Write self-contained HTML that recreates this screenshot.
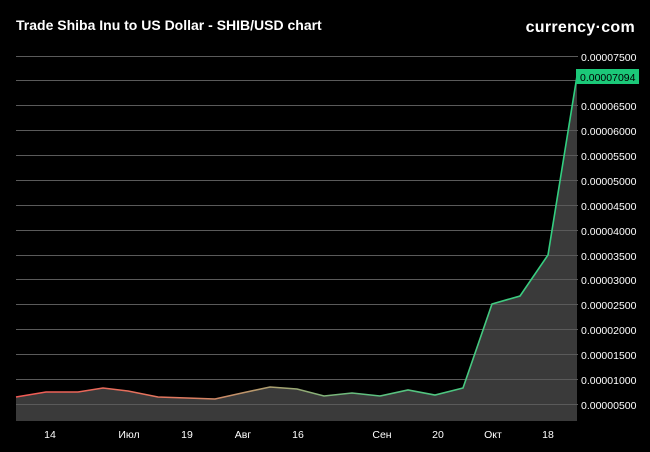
<!DOCTYPE html>
<html><head><meta charset="utf-8"><style>
html,body{margin:0;padding:0;background:#000;}
svg{display:block;font-family:"Liberation Sans",sans-serif;}
</style></head><body>
<svg width="650" height="452" viewBox="0 0 650 452">
<rect width="650" height="452" fill="#000"/>
<text x="16" y="30" fill="#fff" font-size="14" font-weight="bold">Trade Shiba Inu to US Dollar - SHIB/USD chart</text>
<text x="635" y="32" fill="#fff" font-size="16" font-weight="bold" text-anchor="end" letter-spacing="0.3">currency·com</text>
<defs>
<linearGradient id="g" gradientUnits="userSpaceOnUse" x1="16" y1="0" x2="578" y2="0">
<stop offset="0" stop-color="#f25a55"/>
<stop offset="0.3" stop-color="#e07a60"/>
<stop offset="0.45" stop-color="#b0a070"/>
<stop offset="0.62" stop-color="#60c080"/>
<stop offset="1" stop-color="#2ed080"/>
</linearGradient>
</defs>
<path d="M16,397 L46,392 L78,392 L103,388 L128,391 L158,397 L187,398 L215,399 L242,393 L270,387 L297,389 L324,396 L352,393 L380,396 L408,390 L435,395 L463,388 L492,304 L520,296 L548,255 L577,76 L577,421 L16,421 Z" fill="#3a3a3a"/>
<g stroke="#5a5a5a" stroke-width="1">
<line x1="16" x2="578" y1="56.5" y2="56.5"/>
<line x1="16" x2="578" y1="80.5" y2="80.5"/>
<line x1="16" x2="578" y1="105.5" y2="105.5"/>
<line x1="16" x2="578" y1="130.5" y2="130.5"/>
<line x1="16" x2="578" y1="155.5" y2="155.5"/>
<line x1="16" x2="578" y1="180.5" y2="180.5"/>
<line x1="16" x2="578" y1="205.5" y2="205.5"/>
<line x1="16" x2="578" y1="230.5" y2="230.5"/>
<line x1="16" x2="578" y1="255.5" y2="255.5"/>
<line x1="16" x2="578" y1="279.5" y2="279.5"/>
<line x1="16" x2="578" y1="304.5" y2="304.5"/>
<line x1="16" x2="578" y1="329.5" y2="329.5"/>
<line x1="16" x2="578" y1="354.5" y2="354.5"/>
<line x1="16" x2="578" y1="379.5" y2="379.5"/>
<line x1="16" x2="578" y1="404.5" y2="404.5"/>
</g>
<polyline points="16,397 46,392 78,392 103,388 128,391 158,397 187,398 215,399 242,393 270,387 297,389 324,396 352,393 380,396 408,390 435,395 463,388 492,304 520,296 548,255 577,76" fill="none" stroke="url(#g)" stroke-width="1.6"/>
<g fill="#fff" font-size="10.5">
<text x="581" y="61">0.00007500</text>
<text x="581" y="110">0.00006500</text>
<text x="581" y="135">0.00006000</text>
<text x="581" y="160">0.00005500</text>
<text x="581" y="185">0.00005000</text>
<text x="581" y="210">0.00004500</text>
<text x="581" y="235">0.00004000</text>
<text x="581" y="260">0.00003500</text>
<text x="581" y="284">0.00003000</text>
<text x="581" y="309">0.00002500</text>
<text x="581" y="334">0.00002000</text>
<text x="581" y="359">0.00001500</text>
<text x="581" y="384">0.00001000</text>
<text x="581" y="409">0.00000500</text>
</g>
<rect x="576" y="69" width="63" height="15" fill="#1bc878"/>
<text x="580" y="81" fill="#000" font-size="10.5">0.00007094</text>
<g fill="#fff" font-size="10.5" text-anchor="middle">
<text x="50" y="438">14</text>
<text x="129" y="438">Июл</text>
<text x="187" y="438">19</text>
<text x="243" y="438">Авг</text>
<text x="298" y="438">16</text>
<text x="382" y="438">Сен</text>
<text x="438" y="438">20</text>
<text x="493" y="438">Окт</text>
<text x="548" y="438">18</text>
</g>
</svg>
</body></html>
